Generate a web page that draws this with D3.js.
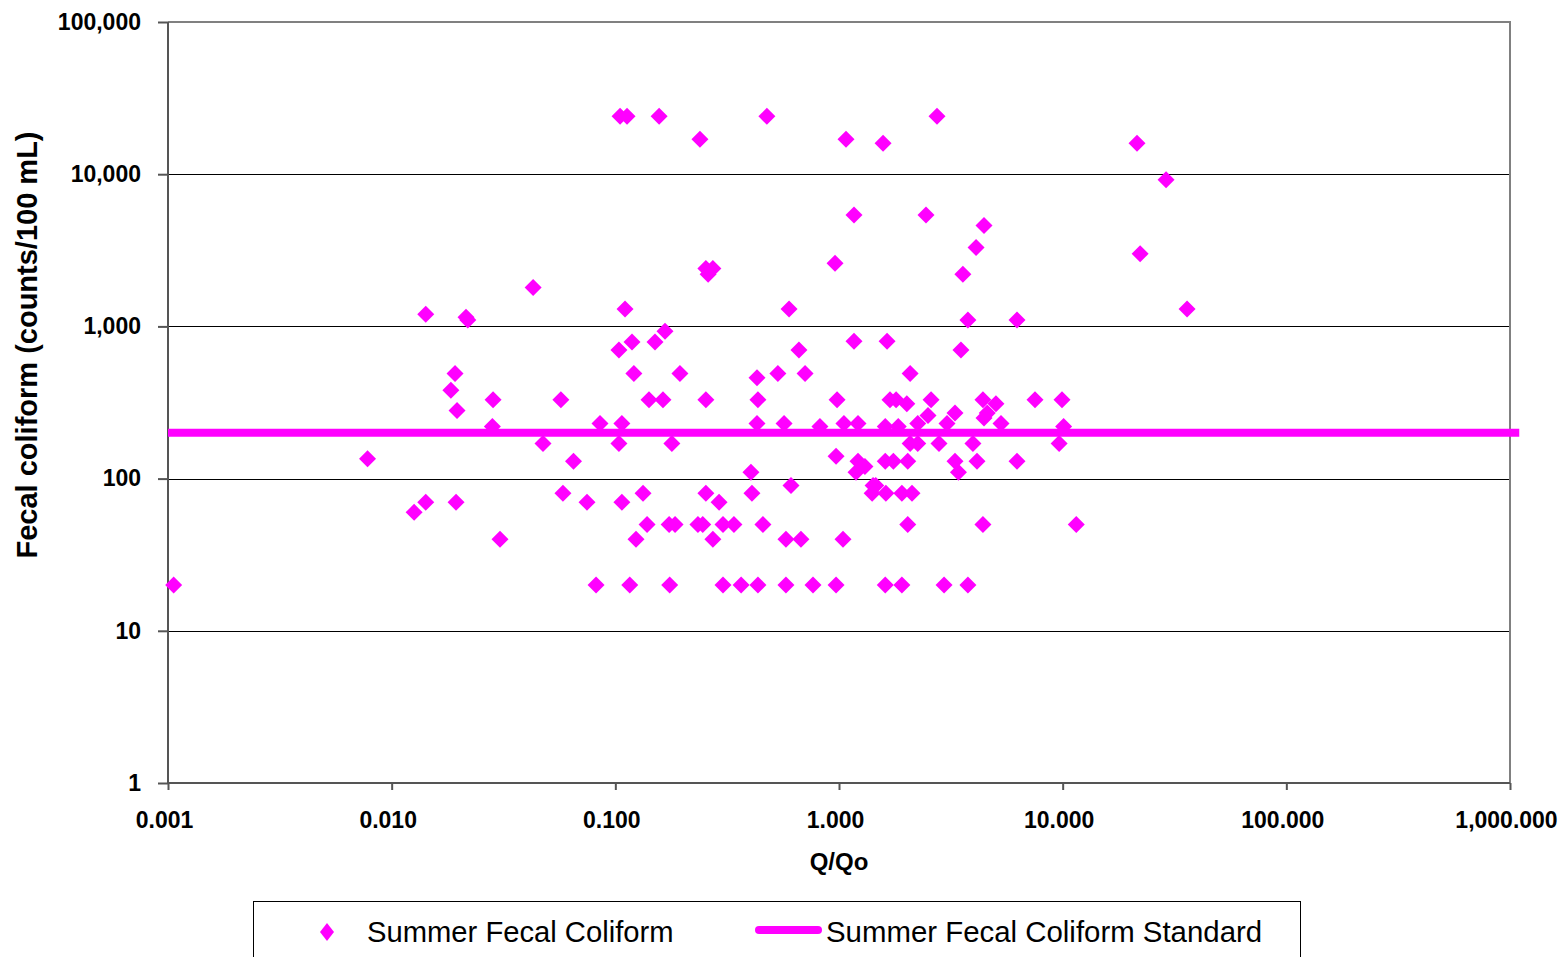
<!DOCTYPE html>
<html>
<head>
<meta charset="utf-8">
<script src="https://cdn.jsdelivr.net/npm/d3@7"></script>
<style>
    body { margin: 0; background: #fff; }
    svg { display: block; font-family: "Liberation Sans", Arial, sans-serif; }
</style>
</head>
<body>
<div id="chart-div"></div>
<script>
// DATA ///////////////////////////////////////////////////////////////////////
// Summer fecal coliform samples: Q/Qo and counts/100 mL
const summerQ = [
    0.00106, 0.0078, 0.0126, 0.0142, 0.0142, 0.0184, 0.0192, 0.0196, 0.0194, 0.0215,
    0.0219, 0.0284, 0.0282, 0.0305, 0.0429, 0.0475, 0.0571, 0.0583, 0.065, 0.0747,
    0.082, 0.0854,
    0.1038, 0.1187, 0.1504, 0.1667, 0.121, 0.1945, 0.1414, 0.1633, 0.254, 0.43,
    0.434, 0.533, 0.705, 0.662, 1.167, 0.98, 0.107, 0.1038, 0.179, 0.43,
    0.568, 0.822, 1.052, 1.216, 0.404, 0.97, 1.216, 1.306, 1.191, 1.42,
    1.406, 0.107, 0.133, 0.254, 0.291, 0.408, 0.61, 0.1386, 0.174, 0.185,
    0.234, 0.246, 0.303, 0.339, 0.457, 0.1237, 0.273, 0.579, 0.676, 1.042,
    0.116, 0.175, 0.303, 0.365, 0.434, 0.579, 0.765, 0.97, 0.105, 0.1128,
    0.157, 0.239, 0.476, 1.075, 1.167, 0.96, 0.254, 0.273, 0.26, 0.1105,
    0.598,
    1.574, 2.742, 2.449, 4.45, 4.1, 3.58, 3.77, 6.25, 1.64, 3.51,
    2.08, 1.69, 1.8, 2.01, 2.58, 4.4, 5.03, 7.52, 9.93, 2.5,
    3.3, 4.6, 4.45, 5.3, 2.25, 3.04, 1.61, 1.84, 10.1, 2.08,
    2.25, 2.8, 3.97, 9.64, 1.61, 1.75, 2.03, 3.3, 3.42, 4.14,
    6.25, 1.46, 1.62, 1.91, 2.12, 2.03, 4.4, 11.5, 1.61, 1.91,
    2.95, 3.77, 21.5, 29.0, 22.2, 36.0
];
const summerFC = [
    20, 135, 60, 70, 1200, 380, 490, 280, 70, 1150,
    1100, 330, 220, 40, 1800, 170, 330, 80, 130, 70,
    20, 230,
    700, 790, 790, 930, 490, 490, 330, 330, 330, 460,
    330, 490, 490, 700, 800, 330, 230, 170, 170, 230,
    230, 220, 230, 230, 110, 140, 130, 120, 110, 90,
    80, 70, 80, 80, 70, 80, 90, 50, 50, 50,
    50, 50, 50, 50, 50, 40, 40, 40, 40, 40,
    20, 20, 20, 20, 20, 20, 20, 20, 24000, 24000,
    24000, 17000, 24000, 17000, 5400, 2600, 2400, 2400, 2200, 1300,
    1300,
    16000, 24000, 5400, 4600, 3300, 2200, 1100, 1100, 800, 700,
    490, 330, 330, 310, 330, 330, 310, 330, 330, 260,
    270, 270, 250, 230, 230, 230, 220, 220, 220, 170,
    170, 170, 170, 170, 130, 130, 130, 130, 110, 130,
    130, 90, 80, 80, 80, 50, 50, 50, 20, 20,
    20, 20, 16000, 9200, 3000, 1300
];

// Summer fecal coliform standard (200 counts/100 mL)
const standardQ = [0.001, 1100];
const standardFC = [200, 200];

const xTicks = [0.001, 0.01, 0.1, 1, 10, 100, 1000];
const yTicks = [1, 10, 100, 1000, 10000, 100000];
const gridValues = [10, 100, 1000, 10000];

const xTitle = "Q/Qo";
const yTitle = "Fecal coliform (counts/100 mL)";
const legendLabels = ["Summer Fecal Coliform", "Summer Fecal Coliform Standard"];

(function() {
    const PINK = "#ff00ff";
    const AXIS = "#555";
    const FRAME = "#808080";

    // CHART ///////////////////////////////////////////////////////////////
    function drawChart() {
        const W = 1562, H = 957;
        const m = { left: 168, right: 1510, top: 22, bottom: 783 };

        const svg = d3.select("#chart-div").append("svg")
            .attr("width", W)
            .attr("height", H);

        const x = d3.scaleLog().domain([0.001, 1000]).range([m.left, m.right]);
        const y = d3.scaleLog().domain([1, 100000]).range([m.bottom, m.top]);

        // Gridlines
        svg.append("g").selectAll("line")
            .data(gridValues)
            .enter().append("line")
            .attr("x1", m.left).attr("x2", m.right)
            .attr("y1", d => Math.round(y(d)) + 0.5)
            .attr("y2", d => Math.round(y(d)) + 0.5)
            .attr("stroke", "#000")
            .attr("stroke-width", 1);

        // Frame top and right
        svg.append("path")
            .attr("d", `M${m.left},${m.top}H${m.right}V${m.bottom}`)
            .attr("fill", "none")
            .attr("stroke", FRAME)
            .attr("stroke-width", 2);

        // Axes
        const yAxis = d3.axisLeft(y)
            .tickValues(yTicks)
            .tickFormat(d3.format(","))
            .tickSize(10)
            .tickPadding(17);
        const gy = svg.append("g")
            .attr("transform", `translate(${m.left},0)`)
            .call(yAxis);

        const xAxis = d3.axisBottom(x)
            .tickValues(xTicks)
            .tickFormat(d3.format(",.3f"))
            .tickSize(7)
            .tickPadding(22);
        const gx = svg.append("g")
            .attr("transform", `translate(0,${m.bottom})`)
            .call(xAxis);

        [gx, gy].forEach(function(g) {
            g.select(".domain").attr("stroke", AXIS).attr("stroke-width", 2);
            g.selectAll(".tick line").attr("stroke", AXIS).attr("stroke-width", 2);
            g.selectAll(".tick text")
                .attr("fill", "#000")
                .style("font-size", "23px")
                .style("font-weight", "bold")
                .style("font-family", "'Liberation Sans', Arial, sans-serif");
        });
        gx.select(".domain").attr("d", `M${m.left},0H${m.right}`);
        gy.select(".domain").attr("d", `M0,${m.bottom}V${m.top}`);
        gx.selectAll(".tick text").attr("dx", -4);

        // Axis titles
        svg.append("text")
            .attr("x", 839).attr("y", 870)
            .attr("text-anchor", "middle")
            .style("font-size", "24px")
            .style("font-weight", "bold")
            .text(xTitle);

        svg.append("text")
            .attr("transform", "translate(37,345) rotate(-90)")
            .attr("text-anchor", "middle")
            .style("font-size", "29px")
            .style("font-weight", "bold")
            .text(yTitle);

        // Standard line
        const line = d3.line().x(d => x(d[0])).y(d => y(d[1]));
        svg.append("path")
            .datum(d3.zip(standardQ, standardFC))
            .attr("d", line)
            .attr("fill", "none")
            .attr("stroke", PINK)
            .attr("stroke-width", 8);

        // Diamonds
        const diamond = (w, h) => `M0,${-h}L${w},0L0,${h}L${-w},0Z`;
        svg.append("g").selectAll("path")
            .data(d3.zip(summerQ, summerFC))
            .enter().append("path")
            .attr("transform", d => `translate(${x(d[0])},${y(d[1])})`)
            .attr("d", diamond(8.5, 8.5))
            .attr("fill", PINK);

        drawLegend(svg, diamond);
    }

    // LEGEND //////////////////////////////////////////////////////////////
    function drawLegend(svg, diamond) {
        const g = svg.append("g");
        g.append("rect")
            .attr("x", 253.5).attr("y", 901.5)
            .attr("width", 1047).attr("height", 80)
            .attr("fill", "#fff")
            .attr("stroke", "#000")
            .attr("stroke-width", 1);

        g.append("path")
            .attr("transform", "translate(327,932)")
            .attr("d", diamond(7, 9))
            .attr("fill", PINK);
        g.append("text")
            .attr("x", 367).attr("y", 942)
            .style("font-size", "29.2px")
            .text(legendLabels[0]);

        g.append("line")
            .attr("x1", 759).attr("x2", 818)
            .attr("y1", 930).attr("y2", 930)
            .attr("stroke", PINK)
            .attr("stroke-width", 8)
            .attr("stroke-linecap", "round");
        g.append("text")
            .attr("x", 826).attr("y", 942)
            .style("font-size", "29.4px")
            .text(legendLabels[1]);
    }

    drawChart();
})();
</script>
</body>
</html>
